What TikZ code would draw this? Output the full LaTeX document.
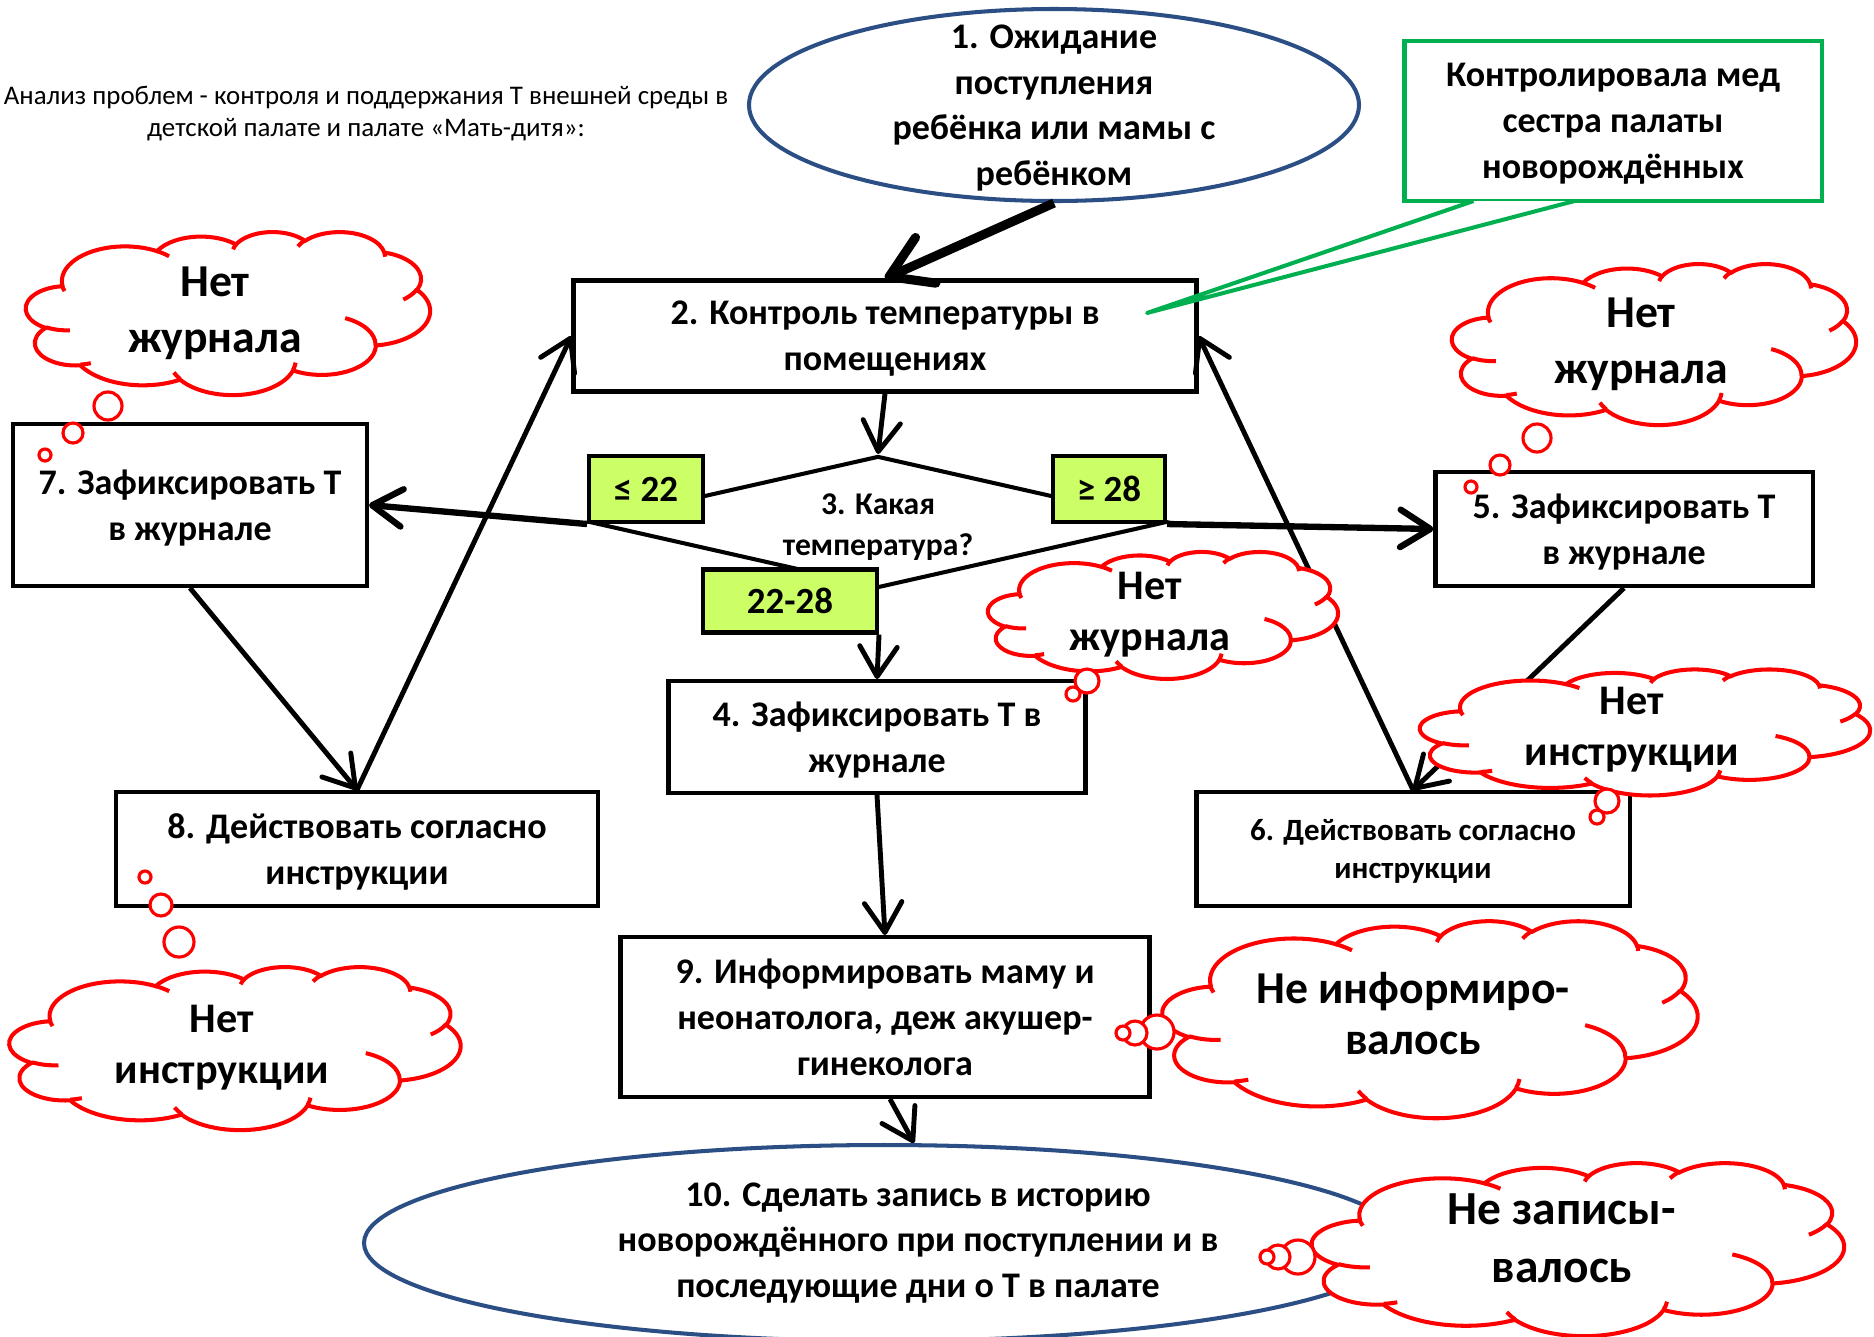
\documentclass[tikz,border=0pt]{standalone}
\usepackage{fontspec}
\setmainfont{Carlito}
\usepackage{tikz}
\usetikzlibrary{arrows.meta,positioning,calc}
\usetikzlibrary{shapes.geometric}

\definecolor{ovalblue}{HTML}{2B4F84}
\definecolor{notegreen}{HTML}{00B050}
\definecolor{lblgreen}{HTML}{CCFF66}
\definecolor{cloudred}{HTML}{FF0000}

\newcommand{\txthead}{\fontsize{15.3}{18.2}\selectfont}
\newcommand{\txtbox}{\bfseries\fontsize{20.5}{26}\selectfont}
\newcommand{\txtsmall}{\bfseries\fontsize{17.6}{21.8}\selectfont}
\newcommand{\txtdiam}{\bfseries\fontsize{18}{23}\selectfont}
\newcommand{\txtlbl}{\bfseries\fontsize{21}{25}\selectfont}

% office style cloud, drawn in a 43.2 x 43.2 box round the pic origin
\tikzset{
  pptcloud/.pic={
    \begin{scope}[shift={(-21.6,-21.6)}, draw=cloudred, line width=2.3pt]
    \draw[fill=white] (3.9,14.37)
      arc[start angle=-187.745, delta angle=128.115, x radius=6.753, y radius=9.19]
      arc[start angle=-152.03, delta angle=106.61, x radius=5.333, y radius=7.267]
      arc[start angle=-153.49, delta angle=116.17, x radius=4.365, y radius=5.945]
      arc[start angle=-139.69, delta angle=129.48, x radius=4.857, y radius=6.595]
      arc[start angle=-74.77, delta angle=97.98, x radius=5.333, y radius=7.273]
      arc[start angle=-37.52, delta angle=119.38, x radius=6.775, y radius=9.22]
      arc[start angle=0.46, delta angle=121.52, x radius=5.785, y radius=7.867]
      arc[start angle=16.85, delta angle=129.41, x radius=6.752, y radius=9.215]
      arc[start angle=59.00, delta angle=91.20, x radius=7.72, y radius=10.543]
      arc[start angle=-276.69, delta angle=139.77, x radius=4.36, y radius=5.918]
      arc[start angle=-239.64, delta angle=143.75, x radius=4.345, y radius=5.945] -- cycle;
    \draw (4.693,26.177) arc[start angle=85.55, delta angle=34.81, x radius=4.345, y radius=5.945]
      (6.928,34.899) arc[start angle=68.24, delta angle=15.07, x radius=4.36, y radius=5.918]
      (16.478,39.09) arc[start angle=146.26, delta angle=12.21, x radius=6.752, y radius=9.215]
      (28.827,34.751) arc[start angle=4.738, delta angle=12.11, x radius=6.752, y radius=9.215]
      (34.129,22.954) arc[start angle=-64.03, delta angle=64.49, x radius=5.785, y radius=7.867]
      (41.798,15.354) arc[start angle=23.21, delta angle=26.43, x radius=5.333, y radius=7.273]
      (38.324,5.426) arc[start angle=-10.21, delta angle=11.03, x radius=4.857, y radius=6.595]
      (29.078,3.952) arc[start angle=-156.29, delta angle=16.60, x radius=4.857, y radius=6.595]
      (22.141,4.72) arc[start angle=-167.73, delta angle=14.24, x radius=4.365, y radius=5.945]
      (14.0,5.192) arc[start angle=-59.63, delta angle=13.89, x radius=6.753, y radius=9.19]
      (4.127,15.789) arc[start angle=160.83, delta angle=11.44, x radius=6.753, y radius=9.19];
    \end{scope}
  }
}

\begin{document}
\begin{tikzpicture}[x=0.2mm, y=-0.2mm,
  box/.style={draw, line width=2.3pt, fill=white, inner sep=0pt, text depth=0pt, align=center, font=\txtbox},
  oval/.style={ellipse, draw=ovalblue, line width=2.3pt, fill=white, inner sep=0pt},
  lbl/.style={draw, line width=2.3pt, fill=lblgreen, inner sep=0pt, font=\txtlbl},
  cloudtxt/.style={align=center, inner sep=0pt, xshift=-2.6mm},
  bubble/.style={circle, draw=cloudred, line width=1.8pt, fill=white, inner sep=0pt},
  arr/.style={-{Straight Barb[length=6mm,width=7.5mm,round]}, line width=2.8pt},
]

\useasboundingbox (0,0) rectangle (1874,1336);

\node[align=center, font=\txthead] (head) at (366,114) {Анализ проблем - контроля и поддержания Т внешней среды в\\детской палате и палате «Мать-дитя»:};

% start and note
\node[oval, minimum width=122mm, minimum height=38.4mm,
  label={[font=\txtbox, align=center, yshift=-0.6mm]center:{1. Ожидание\\поступления\\ребёнка или мамы с\\ребёнком}}] (e1) at (1054,105) {};
\node[box, draw=notegreen, minimum width=83.4mm, minimum height=32mm] (note) at (1613,121) {Контролировала мед\\сестра палаты\\новорождённых};

\node[box, minimum width=124.6mm, minimum height=22.2mm] (b2) at (885,336) {2. Контроль температуры в\\помещениях};

% decision
\node[diamond, draw, line width=2.3pt, fill=white, inner sep=0pt, minimum width=115.6mm, minimum height=26.4mm,
  label={[font=\txtdiam, align=center, yshift=-1mm]center:{3. Какая\\температура?}}] (d3) at (878,522) {};
\node[lbl, minimum width=22.8mm, minimum height=13.2mm] (lo) at (646,489) {≤ 22};
\node[lbl, minimum width=22.4mm, minimum height=13.2mm] (hi) at (1109,489) {≥ 28};
\node[lbl, minimum width=34.8mm, minimum height=12.6mm] (mid) at (790,601) {22-28};

\node[box, minimum width=83.4mm, minimum height=22.4mm] (b4) at (877,737) {4. Зафиксировать Т в\\журнале};
\node[box, minimum width=75.4mm, minimum height=22.8mm] (b5) at (1624,529) {5. Зафиксировать Т\\в журнале};
\node[box, font=\txtsmall, minimum width=86.6mm, minimum height=22.8mm] (b6) at (1413,849) {6. Действовать согласно\\инструкции};
\node[box, minimum width=70.8mm, minimum height=32.4mm] (b7) at (190,505) {7. Зафиксировать Т\\в журнале};
\node[box, minimum width=96.4mm, minimum height=22.8mm] (b8) at (357,849) {8. Действовать согласно\\инструкции};
\node[box, minimum width=105.8mm, minimum height=32mm] (b9) at (885,1017) {9. Информировать маму и\\неонатолога, деж акушер-\\гинеколога};
\node[oval, minimum width=208mm, minimum height=39.2mm,
  label={[font=\txtbox, align=center, xshift=6.8mm]center:{10. Сделать запись в историю\\новорождённого при поступлении и в\\последующие дни о Т в палате}}] (e10) at (884,1243) {};

% connectors
\draw[-{Straight Barb[length=8mm,width=10mm,round]}, line width=5.2pt] (e1.south) -- (b2.north);
\draw[arr] (b2.south) -- (d3.north);
\draw[arr, line width=3.6pt] (lo.south west) -- (b7.east);
\draw[arr, line width=3.6pt] (hi.south east) -- (b5.west);
\draw[arr] (mid.south east) -- (b4.north);
\draw[arr] (b7.south) -- (b8.north);
\draw[arr] (b8.north) -- (b2.west);
\draw[arr] (b5.south) -- (b6.north);
\draw[arr] (b6.north) -- (b2.east);
\draw[arr] (b4.south) -- (b9.north);
\draw[arr] ($(b9.south)+(5,0)$) -- ($(e10.north)+(30,0)$);

\coordinate (tip) at (1147,313);
\draw[notegreen, line width=2.3pt, fill=white, line join=round] ($(note.south west)+(71,-2)$) -- (tip) -- ($(note.south west)+(172,-2)$);

% clouds
\pic[xscale=404/43.2, yscale=163/43.2] at (228,313) {pptcloud};
\node[cloudtxt, font=\bfseries\fontsize{26}{32}\selectfont] (c1) at (228,313) {Нет\\журнала};
\pic[xscale=404/43.2, yscale=161/43.2] at (1654,344) {pptcloud};
\node[cloudtxt, font=\bfseries\fontsize{26}{32}\selectfont] (c2) at (1654,344) {Нет\\журнала};
\pic[xscale=350/43.2, yscale=127/43.2] at (1163,615) {pptcloud};
\node[cloudtxt, font=\bfseries\fontsize{24}{29}\selectfont] (c3) at (1163,615) {Нет\\журнала};
\pic[xscale=450/43.2, yscale=126/43.2] at (1645,732) {pptcloud};
\node[cloudtxt, font=\bfseries\fontsize{24}{29}\selectfont] (c4) at (1645,730) {Нет\\инструкции};
\pic[xscale=451/43.2, yscale=163/43.2] at (235,1048) {pptcloud};
\node[cloudtxt, font=\bfseries\fontsize{24}{29}\selectfont] (c5) at (235,1048) {Нет\\инструкции};
\pic[xscale=535/43.2, yscale=197/43.2] at (1430,1019) {pptcloud};
\node[cloudtxt, font=\bfseries\fontsize{26}{29}\selectfont] (c6) at (1426,1014) {Не информиро-\\валось};
\pic[xscale=532/43.2, yscale=173/43.2] at (1578,1249) {pptcloud};
\node[cloudtxt, font=\bfseries\fontsize{27}{33}\selectfont] (c7) at (1575,1238) {Не записы-\\валось};

% bubbles
\node[bubble, minimum size=5.6mm] (c1a) at (108,406) {};
\node[bubble, minimum size=4mm] (c1b) at (73,433) {};
\node[bubble, minimum size=2.4mm] (c1c) at (45,455) {};
\node[bubble, minimum size=5.6mm] (c2a) at (1537,438) {};
\node[bubble, minimum size=4mm] (c2b) at (1500,465) {};
\node[bubble, minimum size=2.4mm] (c2c) at (1471,487) {};
\node[bubble, minimum size=4.8mm] (c3a) at (1087,681) {};
\node[bubble, minimum size=2.8mm] (c3b) at (1073,694) {};
\node[bubble, minimum size=4.8mm] (c4a) at (1607,801) {};
\node[bubble, minimum size=2.8mm] (c4b) at (1597,817) {};
\node[bubble, minimum size=6mm] (c5a) at (179,942) {};
\node[bubble, minimum size=4.4mm] (c5b) at (161,905) {};
\node[bubble, minimum size=2.4mm] (c5c) at (145,877) {};
\node[bubble, minimum size=6.8mm] (c6a) at (1157,1032) {};
\node[bubble, minimum size=4.8mm] (c6b) at (1135,1033) {};
\node[bubble, minimum size=2.8mm] (c6c) at (1123,1033) {};
\node[bubble, minimum size=6.8mm] (c7a) at (1298,1257) {};
\node[bubble, minimum size=4.8mm] (c7b) at (1278,1257) {};
\node[bubble, minimum size=2.8mm] (c7c) at (1267,1257) {};

\end{tikzpicture}
\end{document}
